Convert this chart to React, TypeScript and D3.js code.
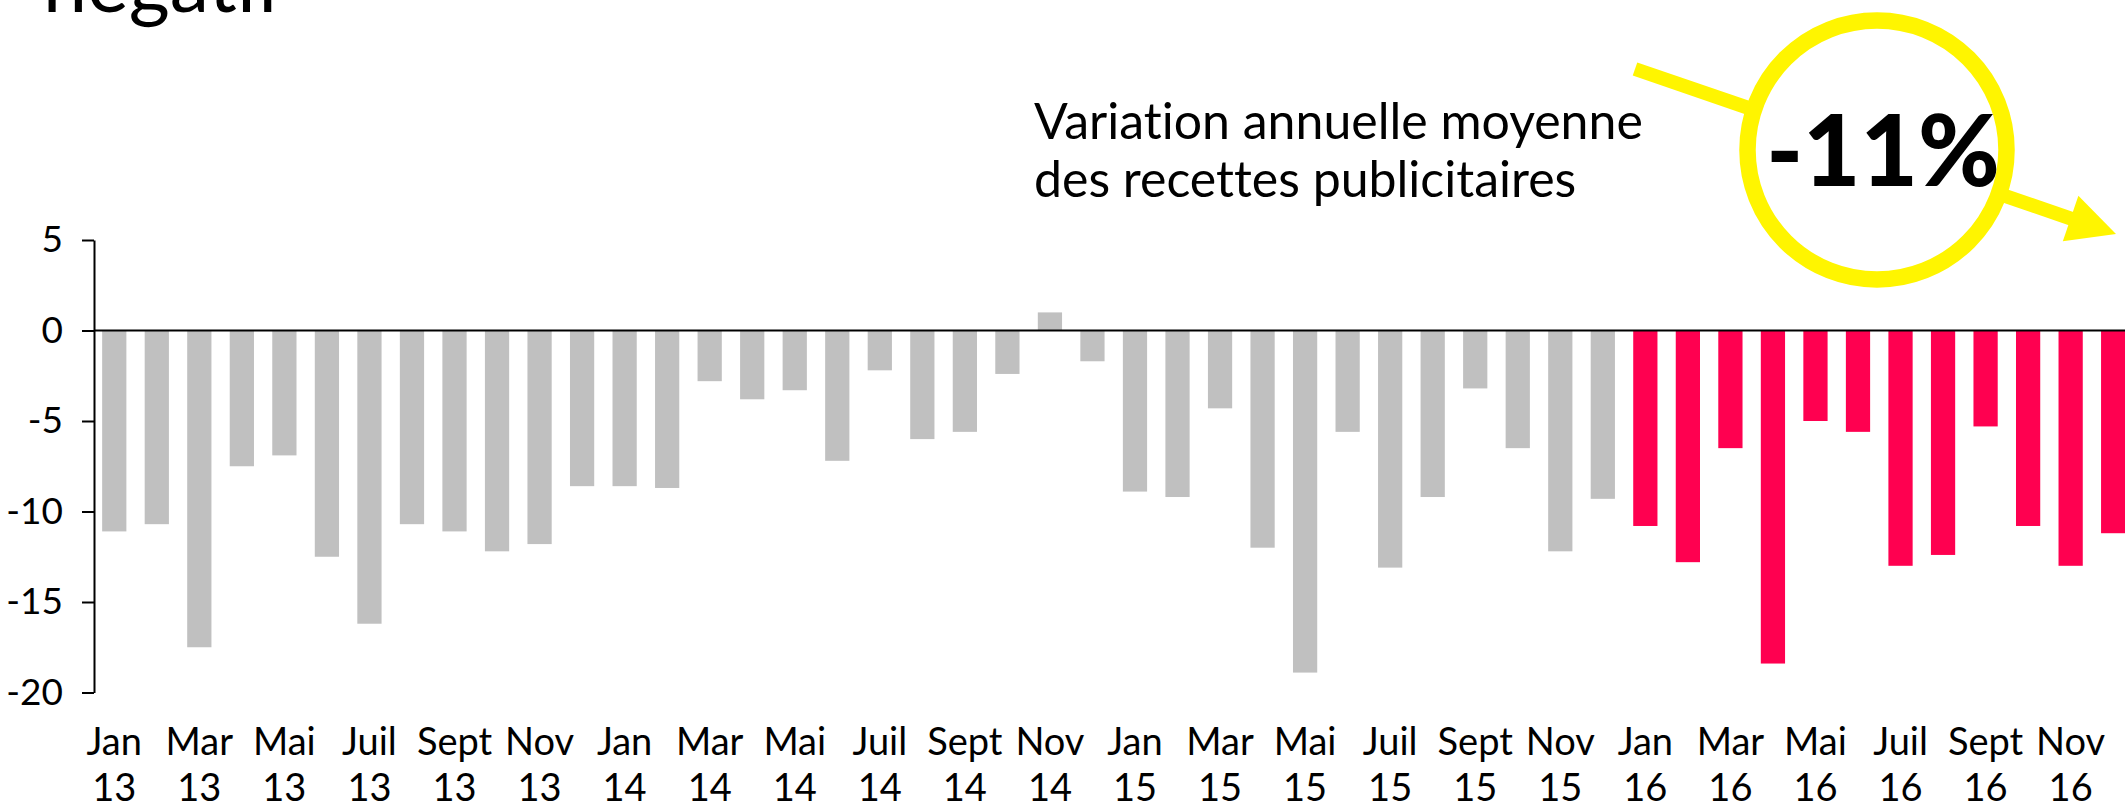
import React, { useRef, useEffect } from "react";
import * as d3 from "d3";

// monthly change of ad revenue, in %
const months = ["Jan", "Fév", "Mar", "Avr", "Mai", "Juin", "Juil", "Août", "Sept", "Oct", "Nov", "Déc"];
const years = ["13", "14", "15", "16"];
const values13 = [-11.1, -10.7, -17.5, -7.5, -6.9, -12.5, -16.2, -10.7, -11.1, -12.2, -11.8, -8.6];
const values14 = [-8.6, -8.7, -2.8, -3.8, -3.3, -7.2, -2.2, -6.0, -5.6, -2.4, 1.0, -1.7];
const values15 = [-8.9, -9.2, -4.3, -12.0, -18.9, -5.6, -13.1, -9.2, -3.2, -6.5, -12.2, -9.3];
const values16 = [-10.8, -12.8, -6.5, -18.4, -5.0, -5.6, -13.0, -12.4, -5.3, -10.8, -13.0, -11.2];
const yTicks = [5, 0, -5, -10, -15, -20];
const highlightYear = "16";

const titleTail = "négatif";
const noteLines = ["Variation annuelle moyenne", "des recettes publicitaires"];
const noteValue = "-11%";

const font = "Lato, 'Source Sans Pro', sans-serif";

export default function App() {

	const ref = useRef(null);

	const layout = {"width": 2125,
					"height": 805,
					"left": 93,
					"step": 42.53,
					"top": 240,
					"bottom": 692.5};

	useEffect(() => {

		const series = [values13, values14, values15, values16];

		const data = years.flatMap((yr, yi) => months.map((m, mi) => ({
			"key": `${m} ${yr}`,
			"month": m,
			"year": yr,
			"value": series[yi][mi],
			"labelled": mi % 2 === 0
		})));

		const svg = d3.select(ref.current)
					.attr("width", layout.width)
					.attr("height", layout.height)
					.style("font-variant-ligatures", "none");

		svg.selectAll("*").remove();

		const xScale = d3.scaleBand()
						.domain(data.map(d => d.key))
						.range([layout.left, layout.left + layout.step * data.length])
						.paddingInner(0.43)
						.paddingOuter(0.215);

		const yScale = d3.scaleLinear()
						.domain([-20, 5])
						.range([layout.bottom, layout.top]);

		// title, cut by the top edge
		svg.append("text")
			.attr("x", 43)
			.attr("y", 12)
			.attr("font-family", font)
			.attr("font-size", 79)
			.attr("fill", "#000")
			.text(titleTail);

		// bars
		svg.append("g")
			.selectAll("rect")
			.data(data)
			.join("rect")
			.attr("x", d => xScale(d.key))
			.attr("width", xScale.bandwidth())
			.attr("y", d => yScale(Math.max(0, d.value)))
			.attr("height", d => Math.abs(yScale(d.value) - yScale(0)))
			.attr("fill", d => d.year === highlightYear ? "#ff0050" : "#c0c0c0");

		// zero line
		svg.append("line")
			.attr("x1", 94)
			.attr("x2", layout.width)
			.attr("y1", yScale(0))
			.attr("y2", yScale(0))
			.attr("stroke", "#000")
			.attr("stroke-width", 2);

		// y axis
		const yAxis = svg.append("g")
						.attr("transform", "translate(94, 0)")
						.call(d3.axisLeft(yScale)
								.tickValues(yTicks)
								.tickFormat(d => String(d))
								.tickSize(12)
								.tickSizeOuter(0)
								.tickPadding(19));

		yAxis.selectAll("path, line")
			.attr("stroke", "#000")
			.attr("stroke-width", 2);

		yAxis.selectAll("text")
			.attr("font-family", font)
			.attr("font-size", 37)
			.attr("fill", "#000");

		// x labels, every other month
		const labels = svg.append("g")
						.selectAll("text")
						.data(data.filter(d => d.labelled))
						.join("text")
						.attr("text-anchor", "middle")
						.attr("font-family", font)
						.attr("font-size", 38)
						.attr("fill", "#000");

		labels.append("tspan")
			.attr("x", d => xScale(d.key) + xScale.bandwidth() / 2)
			.attr("y", 755)
			.text(d => d.month);

		labels.append("tspan")
			.attr("x", d => xScale(d.key) + xScale.bandwidth() / 2)
			.attr("y", 801)
			.text(d => d.year);

		// annotation
		const note = svg.append("text")
						.attr("font-family", font)
						.attr("font-size", 50)
						.attr("fill", "#000");

		note.selectAll("tspan")
			.data(noteLines)
			.join("tspan")
			.attr("x", 1034)
			.attr("y", (d, i) => 139 + i * 58)
			.text(d => d);

		const yellow = "#fff500";
		const start = [1635, 69];
		const tip = [2116, 234];
		const len = Math.hypot(tip[0] - start[0], tip[1] - start[1]);
		const ux = (tip[0] - start[0]) / len;
		const uy = (tip[1] - start[1]) / len;
		const headLen = 48;
		const headHalf = 24;
		const base = [tip[0] - ux * headLen, tip[1] - uy * headLen];

		svg.append("line")
			.attr("x1", start[0])
			.attr("y1", start[1])
			.attr("x2", base[0] + ux * 2)
			.attr("y2", base[1] + uy * 2)
			.attr("stroke", yellow)
			.attr("stroke-width", 14);

		svg.append("polygon")
			.attr("points", [tip,
							 [base[0] - uy * headHalf, base[1] + ux * headHalf],
							 [base[0] + uy * headHalf, base[1] - ux * headHalf]].map(p => p.join(",")).join(" "))
			.attr("fill", yellow);

		svg.append("circle")
			.attr("cx", 1877)
			.attr("cy", 150)
			.attr("r", 129.5)
			.attr("fill", "#fff")
			.attr("stroke", yellow)
			.attr("stroke-width", 16.5);

		svg.append("text")
			.attr("x", 1883)
			.attr("y", 186)
			.attr("text-anchor", "middle")
			.attr("font-family", font)
			.attr("font-weight", 900)
			.attr("font-size", 99)
			.attr("fill", "#000")
			.text(noteValue);

	}, []);

	return (
		<svg ref={ref} style={{position: "absolute", left: 0, top: 0, display: "block"}} />
	);

}
